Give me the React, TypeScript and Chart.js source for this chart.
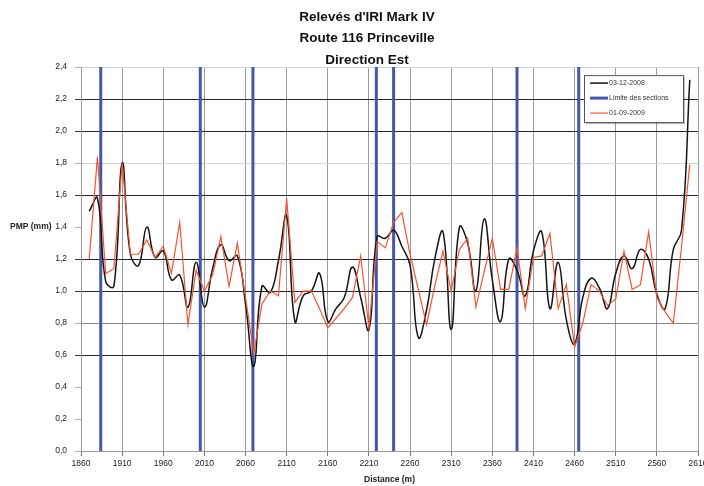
import React, { useEffect, useRef } from "react";
import { Chart, registerables } from "chart.js";

Chart.register(...registerables);

const TITLE_LINES = ["Relevés d'IRI Mark IV", "Route 116 Princeville", "Direction Est"];
const X_TITLE = "Distance (m)";
const Y_TITLE = "PMP (mm)";
const SERIES_LABELS = ["03-12-2008", "Limite des sections", "01-09-2009"];

const DISTANCES = [
  1870, 1880, 1890, 1900, 1910, 1920, 1930, 1940, 1950, 1960,
  1970, 1980, 1990, 2000, 2010, 2020, 2030, 2040, 2050, 2060,
  2070, 2080, 2090, 2100, 2110, 2120, 2130, 2140, 2150, 2160,
  2170, 2180, 2190, 2200, 2210, 2220, 2230, 2240, 2250, 2260,
  2270, 2280, 2290, 2300, 2310, 2320, 2330, 2340, 2350, 2360,
  2370, 2380, 2390, 2400, 2410, 2420, 2430, 2440, 2450, 2460,
  2470, 2480, 2490, 2500, 2510, 2520, 2530, 2540, 2550, 2560,
  2570, 2580, 2590, 2600,
];

const IRI_2008 = [
  1.50, 1.58, 1.06, 1.03, 1.80, 1.23, 1.16, 1.40, 1.21, 1.25,
  1.07, 1.10, 0.90, 1.18, 0.90, 1.14, 1.29, 1.19, 1.22, 0.92,
  0.53, 1.03, 0.99, 1.19, 1.47, 0.81, 0.97, 1.00, 1.11, 0.81,
  0.89, 0.96, 1.15, 0.96, 0.76, 1.34, 1.33, 1.38, 1.28, 1.16,
  0.71, 0.88, 1.20, 1.37, 0.76, 1.40, 1.30, 1.00, 1.45, 1.07,
  0.81, 1.20, 1.13, 0.97, 1.25, 1.37, 0.89, 1.18, 0.82, 0.67,
  0.96, 1.08, 1.02, 0.89, 1.11, 1.22, 1.14, 1.26, 1.20, 0.98,
  0.89, 1.26, 1.38, 2.32,
];

const IRI_2009 = [
  1.20, 1.84, 1.11, 1.14, 1.80, 1.23, 1.23, 1.32, 1.21, 1.28,
  1.11, 1.43, 0.79, 1.13, 1.00, 1.10, 1.34, 1.03, 1.30, 0.96,
  0.61, 0.92, 1.00, 0.97, 1.58, 0.93, 1.00, 1.00, 0.89, 0.77,
  0.83, 0.89, 0.96, 1.22, 0.77, 1.31, 1.27, 1.43, 1.49, 1.23,
  1.01, 0.79, 1.03, 1.25, 1.00, 1.26, 1.33, 0.90, 1.12, 1.33,
  1.01, 1.01, 1.27, 0.89, 1.21, 1.22, 1.36, 0.89, 1.04, 0.65,
  0.80, 1.04, 1.00, 0.91, 0.95, 1.25, 1.01, 1.04, 1.37, 0.96,
  0.87, 0.80, 1.28, 1.79,
];

const SECTION_LIMITS = [1884, 2005, 2069, 2219, 2240, 2390, 2465];

const X_MIN = 1860;
const X_MAX = 2610;
const X_STEP = 50;
const Y_MIN = 0;
const Y_MAX = 2.4;
const Y_STEP = 0.2;
const DARK_GRID_VALUES = [2.2, 2.0, 1.6, 1.2, 1.0, 0.6];
const LIGHT_GRID_VALUES = [2.4, 1.8];
const MID_GRID_VALUES = [0.8, 0.0];

const FONT = "'Liberation Sans', Arial, sans-serif";
const COLOR_2008 = "#141414";
const COLOR_LIMIT = "#4257b2";
const COLOR_2009 = "#f4542f";

const round1 = (v: number) => Math.round(v * 10) / 10;

const boxLegendPlugin = {
  id: "boxLegend",
  afterDraw(chart: any) {
    const { ctx, chartArea } = chart;
    const x = chartArea.right - 114;
    const y = chartArea.top + 8;
    const w = 99;
    const h = 47;
    ctx.save();
    ctx.fillStyle = "rgba(0,0,0,0.25)";
    ctx.fillRect(x + 2, y + 2, w, h);
    ctx.fillStyle = "#ffffff";
    ctx.fillRect(x, y, w, h);
    ctx.strokeStyle = "#555";
    ctx.lineWidth = 1;
    ctx.strokeRect(x + 0.5, y + 0.5, w, h);
    const order = [0, 1, 2];
    order.forEach((di, i) => {
      const ds = chart.data.datasets[di];
      const ry = y + 8 + i * 15;
      ctx.beginPath();
      ctx.strokeStyle = ds.borderColor;
      ctx.lineWidth = ds.borderWidth;
      ctx.moveTo(x + 6, ry);
      ctx.lineTo(x + 24, ry);
      ctx.stroke();
      ctx.fillStyle = "#333";
      ctx.font = `7px ${FONT}`;
      ctx.textAlign = "left";
      ctx.textBaseline = "middle";
      ctx.fillText(ds.label, x + 25, ry);
    });
    ctx.restore();
  },
};

const yTitlePlugin = {
  id: "yTitleHorizontal",
  afterDraw(chart: any) {
    const { ctx, chartArea, scales } = chart;
    ctx.save();
    ctx.fillStyle = "#222";
    ctx.font = `bold 8.5px ${FONT}`;
    ctx.textAlign = "left";
    ctx.textBaseline = "middle";
    ctx.fillText(Y_TITLE, chartArea.left - 71, scales.y.getPixelForValue(1.4));
    ctx.restore();
  },
};

export default function App() {
  const canvasRef = useRef<HTMLCanvasElement | null>(null);

  useEffect(() => {
    if (!canvasRef.current) return;
    const line2008 = DISTANCES.map((d, i) => ({ x: d, y: IRI_2008[i] }));
    const line2009 = DISTANCES.map((d, i) => ({ x: d, y: IRI_2009[i] }));
    const limits: { x: number; y: number | null }[] = [];
    SECTION_LIMITS.forEach((d) => {
      limits.push({ x: d, y: Y_MIN });
      limits.push({ x: d, y: Y_MAX });
      limits.push({ x: d, y: null });
    });

    const chart = new Chart(canvasRef.current, {
      type: "line",
      data: {
        datasets: [
          {
            label: SERIES_LABELS[0],
            data: line2008,
            borderColor: COLOR_2008,
            borderWidth: 1.5,
            pointRadius: 0,
            tension: 0.45,
            fill: false,
            order: 1,
          },
          {
            label: SERIES_LABELS[1],
            data: limits as any,
            borderColor: COLOR_LIMIT,
            borderWidth: 3,
            pointRadius: 0,
            tension: 0,
            fill: false,
            spanGaps: false,
            order: 2,
          },
          {
            label: SERIES_LABELS[2],
            data: line2009,
            borderColor: COLOR_2009,
            borderWidth: 1.2,
            pointRadius: 0,
            tension: 0,
            fill: false,
            order: 0,
          },
        ],
      },
      options: {
        animation: false,
        responsive: false,
        maintainAspectRatio: false,
        devicePixelRatio: 1,
        layout: { padding: { left: 36, right: 6, top: 0, bottom: 0 } },
        plugins: {
          legend: { display: false },
          tooltip: { enabled: false },
          title: {
            display: true,
            text: TITLE_LINES,
            color: "#111",
            font: { family: FONT, size: 13.5, weight: "bold", lineHeight: "21.7px" },
            padding: { top: 6, bottom: -4 },
          },
        },
        scales: {
          x: {
            type: "linear",
            min: X_MIN,
            max: X_MAX,
            afterFit: (s: any) => {
              s.height = 35;
              s.paddingRight = 0;
              s.paddingLeft = 0;
            },
            ticks: {
              stepSize: X_STEP,
              autoSkip: false,
              maxRotation: 0,
              padding: 3,
              color: "#222",
              font: { family: FONT, size: 8.5 },
              callback: (v: any) => String(v),
            },
            grid: { color: "#9a9a9a", lineWidth: 1, tickLength: 5, tickColor: "#777" },
            border: { display: true, color: "#999" },
            title: {
              display: true,
              text: X_TITLE,
              color: "#222",
              font: { family: FONT, size: 8.5, weight: "bold" },
              padding: { top: 0, bottom: 1 },
            },
          },
          y: {
            type: "linear",
            min: Y_MIN,
            max: Y_MAX,
            afterFit: (s: any) => {
              s.width = 45;
              s.paddingTop = 0;
              s.paddingBottom = 0;
            },
            ticks: {
              stepSize: Y_STEP,
              padding: 8,
              color: "#222",
              font: { family: FONT, size: 8.5 },
              callback: (v: any) => Number(v).toFixed(1).replace(".", ","),
            },
            grid: {
              lineWidth: 1,
              tickLength: 6,
              color: (c: any) => {
                const v = round1(c.tick.value);
                if (DARK_GRID_VALUES.includes(v)) return "#262626";
                if (LIGHT_GRID_VALUES.includes(v)) return "#d4d4d4";
                if (MID_GRID_VALUES.includes(v)) return "#8a8a8a";
                return "rgba(0,0,0,0)";
              },
              tickColor: (c: any) => {
                const v = round1(c.tick.value);
                return DARK_GRID_VALUES.includes(v) ? "#333" : "#aaa";
              },
            },
            border: { display: true, color: "#999" },
          },
        },
      },
      plugins: [boxLegendPlugin, yTitlePlugin],
    });
    return () => chart.destroy();
  }, []);

  return (
    <div style={{ position: "fixed", left: 0, top: 0, width: 704, height: 486, background: "#fff" }}>
      <canvas ref={canvasRef} width={704} height={486} style={{ display: "block" }} />
    </div>
  );
}
